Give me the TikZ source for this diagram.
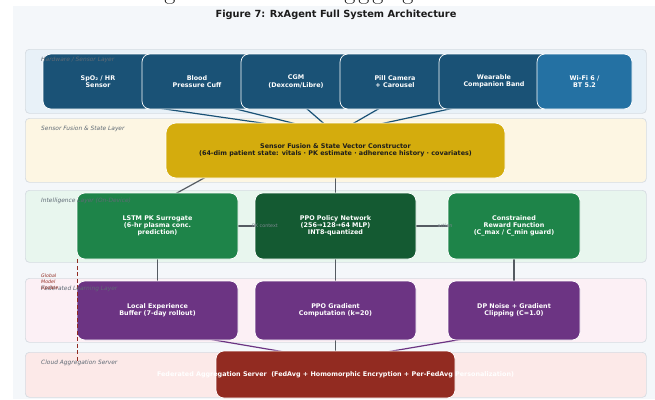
\documentclass[tikz,border=0pt]{standalone}
\usepackage{fontspec}
\setmainfont{DejaVu Sans}
\newfontfamily\headserif{Latin Modern Roman}
\usetikzlibrary{calc}

\definecolor{pagebg}{HTML}{F4F7FA}
\definecolor{bandline}{HTML}{D6DCE2}
\definecolor{hwband}{HTML}{E8F1F8}
\definecolor{fuband}{HTML}{FDF6E3}
\definecolor{inband}{HTML}{E8F6EE}
\definecolor{feband}{HTML}{FCF0F5}
\definecolor{clband}{HTML}{FCE9E8}
\definecolor{hwblue}{HTML}{1A5276}
\definecolor{wifiblue}{HTML}{2471A3}
\definecolor{fugold}{HTML}{D4AC0D}
\definecolor{ingreen}{HTML}{1E8449}
\definecolor{ppogreen}{HTML}{145A32}
\definecolor{fepurple}{HTML}{6C3483}
\definecolor{clred}{HTML}{922B21}
\definecolor{lblgray}{HTML}{5F6A75}
\definecolor{linkgray}{HTML}{555B62}
\definecolor{titleink}{HTML}{1C1C1C}

\pgfdeclarelayer{bg}
\pgfdeclarelayer{links}
\pgfsetlayers{bg,links,main}

\begin{document}
\begin{tikzpicture}[x=1pt,y=-1pt,
  band/.style={draw=bandline, line width=0.7pt, rounded corners=4pt,
    anchor=north west, inner sep=0},
  layerlbl/.style={font=\fontsize{5.9}{6.5}\selectfont\itshape, text=lblgray,
    anchor=base west, inner sep=0},
  box/.style={rounded corners=8pt, draw=white, line width=0.7pt,
    font=\fontsize{6.4}{7.2}\selectfont\bfseries, text=white, align=center, inner sep=0},
  hwbox/.style={box, fill=hwblue, minimum width=110pt, minimum height=55pt},
  inbox/.style={box, minimum height=66pt},
  febox/.style={box, fill=fepurple, minimum height=59pt},
  hwlink/.style={draw=hwblue, line width=1.2pt},
  link/.style={draw=linkgray, line width=1.2pt},
  felink/.style={draw=fepurple, line width=1.2pt},
  linklbl/.style={font=\fontsize{4.8}{5}\selectfont, text=lblgray!80, inner sep=0},
]
\useasboundingbox (0,0) rectangle (655,399);

% ---------- page and bands ----------
\begin{pgfonlayer}{bg}
  \fill[white] (0,0) rectangle (655,399);
  \fill[pagebg] (13,6) rectangle (655,399);
  \node[band, fill=hwband, minimum width=621pt, minimum height=64pt] (bandhw) at (25,49) {};
  \node[band, fill=fuband, minimum width=621pt, minimum height=64pt] (bandfu) at (25,118) {};
  \node[band, fill=inband, minimum width=621pt, minimum height=72pt] (bandin) at (25,190) {};
  \node[band, fill=feband, minimum width=621pt, minimum height=64pt] (bandfe) at (25,278) {};
  \node[band, fill=clband, minimum width=621pt, minimum height=45pt] (bandcl) at (25,352) {};
\end{pgfonlayer}

% heading set above the page, only its descenders remain
\foreach \gx [count=\gi] in {170,350,364,378,408}
  \node[font=\headserif\fontsize{24}{24}\selectfont, anchor=base, inner sep=0]
    (headg\gi) at (\gx,-0.5) {g};

\node[font=\fontsize{9.8}{11}\selectfont\bfseries, text=titleink] (title) at (336,15)
  {Figure 7: RxAgent Full System Architecture};

% ---------- hardware / sensor layer ----------
\node[hwbox] (spo2)  at (98,81.5)  {SpO₂ / HR\\Sensor};
\node[hwbox] (bp)    at (197,81.5) {Blood\\Pressure Cuff};
\node[hwbox] (cgm)   at (296,81.5) {CGM\\(Dexcom/Libre)};
\node[hwbox] (pill)  at (395,81.5) {Pill Camera\\+ Carousel};
\node[hwbox] (band)  at (494,81.5) {Wearable\\Companion Band};
\node[hwbox, fill=wifiblue, minimum width=95pt] (wifi) at (584.5,81.5) {Wi-Fi 6 /\\BT 5.2};

% ---------- fusion ----------
\node[box, fill=fugold, text=titleink, minimum width=339pt, minimum height=55pt,
  rounded corners=10pt] (fusion) at (335.5,150.5)
  {Sensor Fusion \& State Vector Constructor\\(64-dim patient state: vitals · PK estimate · adherence history · covariates)};

% ---------- intelligence ----------
\node[inbox, fill=ingreen, minimum width=161pt] (lstm) at (157.5,226)
  {LSTM PK Surrogate\\(6-hr plasma conc.\\prediction)};
\node[inbox, fill=ppogreen, minimum width=161pt] (ppo) at (335.5,226)
  {PPO Policy Network\\(256→128→64 MLP)\\INT8-quantized};
\node[inbox, fill=ingreen, minimum width=132pt] (reward) at (514,226)
  {Constrained\\Reward Function\\(C\_max / C\_min guard)};

% ---------- federated learning ----------
\node[febox, minimum width=161pt] (buffer) at (157.5,310.5)
  {Local Experience\\Buffer (7-day rollout)};
\node[febox, minimum width=161pt] (grad) at (335.5,310.5)
  {PPO Gradient\\Computation (k=20)};
\node[febox, minimum width=132pt] (dp) at (514,310.5)
  {DP Noise + Gradient\\Clipping (C=1.0)};

% ---------- cloud ----------
\node[box, fill=clred, minimum width=239pt, minimum height=47pt] (cloud) at (335.5,374.5) {};
\node[font=\fontsize{6.4}{7.2}\selectfont\bfseries, text=white, inner sep=0] (cloudtxt) at (cloud.center)
  {Federated Aggregation Server\ \ (FedAvg + Homomorphic Encryption + Per-FedAvg Personalization)};

% ---------- connectors (beneath the boxes) ----------
\begin{pgfonlayer}{links}
  \coordinate (fuhub) at ($(fusion.north)+(0,11)$);
  \foreach \src in {spo2,bp,cgm,pill,band}
    \draw[hwlink] ($(\src.south)+(0,-10)$) -- (fuhub);
  \draw[link] ($(fusion.south west)+(56,-10)$) -- ($(lstm.north)+(0,11)$);
  \draw[link] ($(fusion.south)+(0,-10)$) -- ($(ppo.north)+(0,11)$);
  \draw[link] (lstm.center) -- (ppo.center);
  \draw[link] (ppo.center) -- (reward.center);
  \draw[link] ($(lstm.south)+(0,-10)$) -- ($(buffer.north)+(0,11)$);
  \draw[link] ($(ppo.south)+(0,-10)$) -- ($(grad.north)+(0,11)$);
  \draw[link] ($(reward.south)+(0,-10)$) -- ($(dp.north)+(0,11)$);
  \coordinate (clhub) at ($(cloud.north)+(0,10)$);
  \draw[felink] ($(buffer.south)+(0,-10)$) -- (clhub);
  \draw[felink] ($(dp.south)+(0,-10)$) -- (clhub);
  \draw[link] ($(grad.south)+(0,-10)$) -- (clhub);
\end{pgfonlayer}

% connector labels
\node[linklbl] (pkctx) at (265,225.5) {PK context};
\node[linklbl] (actlbl) at (445,225.5) {action};

% global model update path back to the device
\coordinate (gmuend) at ($(lstm.south west)+(1,102)$);
\draw[clred, line width=1.3pt, dash pattern=on 4pt off 2.5pt]
  ($(lstm.south west)+(1,0)$) -- (gmuend);

% ---------- layer labels ----------
\node[layerlbl] (lblhw) at (41,61)  {Hardware / Sensor Layer};
\node[layerlbl] (lblfu) at (41,130) {Sensor Fusion \& State Layer};
\node[layerlbl] (lblin) at (41,202) {Intelligence Layer (On-Device)};
\node[layerlbl] (lblfe) at (41,290) {Federated Learning Layer};
\node[layerlbl] (lblcl) at (41,364) {Cloud Aggregation Server};

\node[font=\fontsize{4.7}{5.8}\selectfont\itshape, text=clred, align=left,
  anchor=north west, inner sep=0] (gmulbl) at (41,274) {Global\\Model\\Update};

\end{tikzpicture}
\end{document}
